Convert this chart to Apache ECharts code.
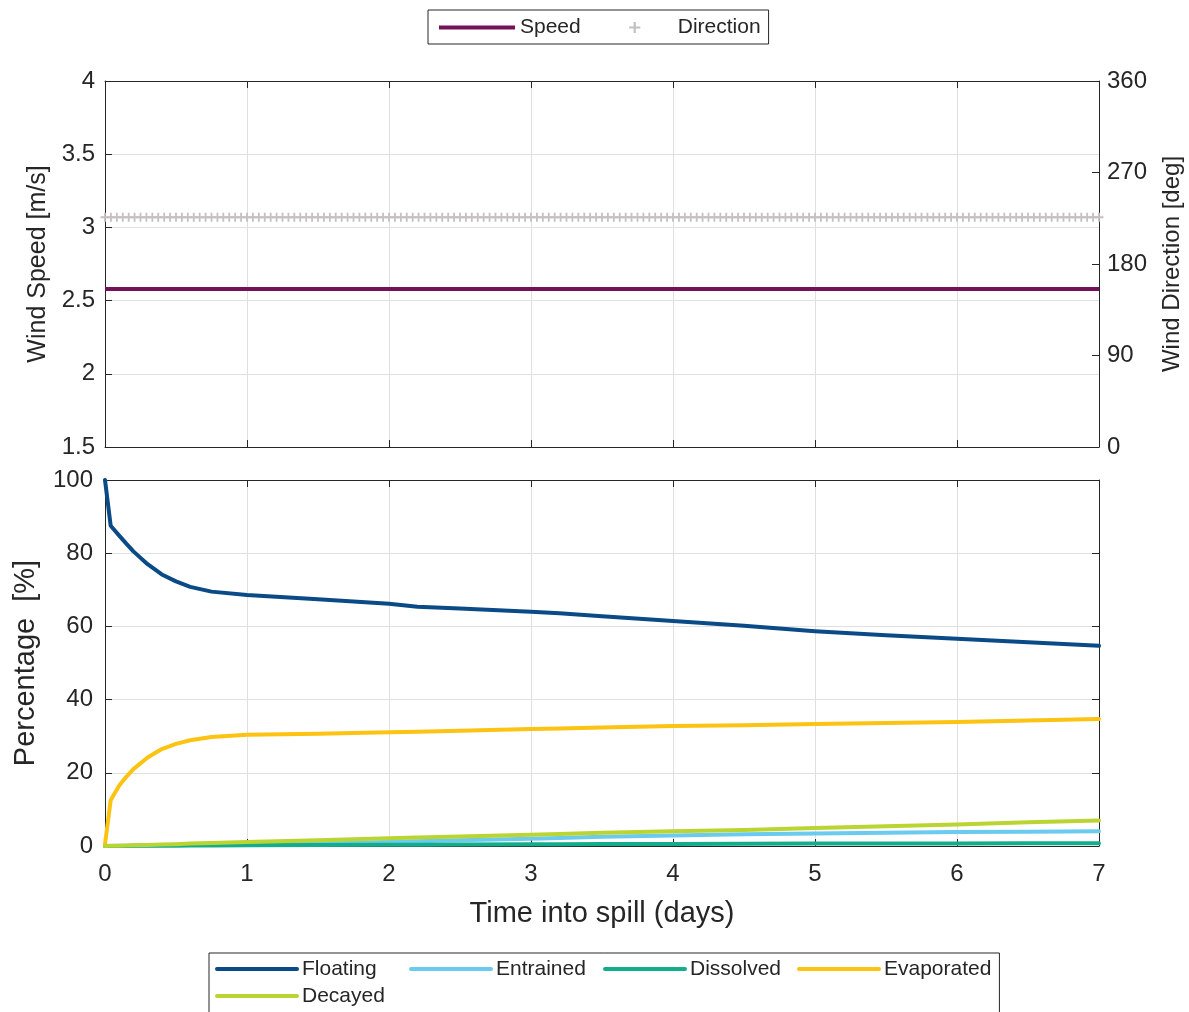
<!DOCTYPE html>
<html>
<head>
<meta charset="utf-8">
<title>Oil spill fate – wind and mass balance</title>
<script src="https://cdn.jsdelivr.net/npm/echarts@6/dist/echarts.min.js"></script>
<style>
  html, body { margin: 0; padding: 0; background: #ffffff; }
  #chart { width: 1189px; height: 1012px; }
</style>
</head>
<body>
<div id="chart"></div>
<script>
// ---- Wind forcing (constant over the run, sampled hourly) ----
const windSampleHours = 168;          // 7 days, hourly samples
const windSpeedValue = 2.58;          // m/s
const windDirectionValue = 226;       // deg

// ---- Mass balance (percent of spilled volume) ----
const timeDays = [0, 0.04, 0.1, 0.15, 0.2, 0.3, 0.4, 0.5, 0.6, 0.75, 1, 1.5, 2, 2.2, 2.5, 3, 3.2, 3.5, 4, 4.5, 5, 5.5, 6, 6.5, 7];
const floating = [100, 87.5, 84.8, 82.6, 80.5, 77.0, 74.2, 72.3, 70.8, 69.5, 68.6, 67.4, 66.2, 65.4, 64.9, 64.0, 63.6, 62.8, 61.5, 60.2, 58.7, 57.6, 56.6, 55.7, 54.7];
const entrained = [0, 0.02, 0.05, 0.07, 0.1, 0.15, 0.2, 0.25, 0.3, 0.38, 0.5, 0.8, 1.1, 1.3, 1.6, 2.0, 2.2, 2.5, 2.9, 3.2, 3.4, 3.6, 3.8, 3.9, 4.0];
const dissolved = [0, 0.01, 0.02, 0.03, 0.04, 0.06, 0.08, 0.1, 0.12, 0.15, 0.2, 0.27, 0.33, 0.36, 0.4, 0.46, 0.48, 0.52, 0.57, 0.62, 0.65, 0.68, 0.7, 0.72, 0.75];
const evaporated = [0.5, 12.5, 16.5, 18.9, 21.0, 24.2, 26.5, 27.9, 28.9, 29.8, 30.4, 30.7, 31.1, 31.2, 31.5, 32.0, 32.1, 32.4, 32.8, 33.0, 33.3, 33.6, 33.9, 34.3, 34.7];
const decayed = [0, 0.05, 0.1, 0.15, 0.2, 0.3, 0.4, 0.5, 0.65, 0.8, 1.1, 1.6, 2.1, 2.3, 2.6, 3.1, 3.3, 3.6, 4.0, 4.4, 4.9, 5.4, 5.9, 6.5, 7.0];

// ---- Axis ticks ----
const dayTicks = [0, 1, 2, 3, 4, 5, 6, 7];
const speedTicks = [1.5, 2, 2.5, 3, 3.5, 4];
const directionTicks = [0, 90, 180, 270, 360];
const percentTicks = [0, 20, 40, 60, 80, 100];

const fateNames = ['Floating', 'Entrained', 'Dissolved', 'Evaporated', 'Decayed'];
const fateValues = [floating, entrained, dissolved, evaporated, decayed];
const fateColors = ['#0a4a86', '#6acbee', '#14ad8b', '#fcc312', '#bad432'];

const FONT = '"Liberation Sans", Arial, Helvetica, sans-serif';
const INK = '#262626';
const GRID_LINE = '#e0e0e0';

const windHours = [];
for (let h = 0; h <= windSampleHours; h++) windHours.push(h / 24);
const speedData = windHours.map(t => [t, windSpeedValue]);
const directionData = windHours.map(t => [t, windDirectionValue]);

function pairs(values) { return timeDays.map((t, i) => [t, values[i]]); }

const tickIn = { show: true, inside: true, length: 7, lineStyle: { color: INK, width: 1 } };
const axisLn = { show: true, onZero: false, lineStyle: { color: INK, width: 1 } };
const splitLn = { show: true, lineStyle: { color: GRID_LINE, width: 1 } };
const tickLabel = { color: INK, fontFamily: FONT, fontSize: 24 };

function dayAxis(gridIndex, position, labelled) {
  return {
    type: 'value', gridIndex, position,
    min: dayTicks[0], max: dayTicks[dayTicks.length - 1], interval: 1,
    axisLine: axisLn, axisTick: tickIn,
    axisLabel: labelled ? Object.assign({ margin: 16 }, tickLabel) : { show: false },
    splitLine: position === 'bottom' ? splitLn : { show: false },
    name: labelled ? 'Time into spill (days)' : '',
    nameLocation: 'middle', nameGap: 53,
    nameTextStyle: { color: INK, fontFamily: FONT, fontSize: 29 }
  };
}

const PLUS = 'path://M4,0 H6 V4 H10 V6 H6 V10 H4 V6 H0 V4 H4 Z';
const hideSymbol = { opacity: 0 };

const option = {
  animation: false,
  backgroundColor: '#ffffff',
  textStyle: { fontFamily: FONT },
  grid: [
    { left: 105, right: 90, top: 81, height: 366, containLabel: false, outerBoundsMode: 'none' },
    { left: 105, right: 90, top: 480, height: 366, containLabel: false, outerBoundsMode: 'none' }
  ],
  xAxis: [
    dayAxis(0, 'bottom', false),
    dayAxis(0, 'top', false),
    dayAxis(1, 'bottom', true),
    dayAxis(1, 'top', false)
  ],
  yAxis: [
    {
      type: 'value', gridIndex: 0, position: 'left',
      min: speedTicks[0], max: speedTicks[speedTicks.length - 1], interval: 0.5,
      axisLine: axisLn, axisTick: tickIn, splitLine: splitLn,
      axisLabel: Object.assign({ margin: 10 }, tickLabel),
      name: 'Wind Speed [m/s]', nameLocation: 'middle', nameGap: 45, nameRotate: 90,
      nameTextStyle: { color: INK, fontFamily: FONT, fontSize: 25 }
    },
    {
      type: 'value', gridIndex: 0, position: 'right',
      min: directionTicks[0], max: directionTicks[directionTicks.length - 1], interval: 90,
      axisLine: axisLn, axisTick: tickIn, splitLine: { show: false },
      axisLabel: Object.assign({ margin: 8 }, tickLabel),
      name: 'Wind Direction [deg]', nameLocation: 'middle', nameGap: 61, nameRotate: 90,
      nameTextStyle: { color: INK, fontFamily: FONT, fontSize: 24 }
    },
    {
      type: 'value', gridIndex: 1, position: 'left',
      min: percentTicks[0], max: percentTicks[percentTicks.length - 1], interval: 20,
      axisLine: axisLn, axisTick: tickIn, splitLine: splitLn,
      axisLabel: Object.assign({ margin: 12 }, tickLabel),
      name: 'Percentage  [%]', nameLocation: 'middle', nameGap: 65, nameRotate: 90,
      nameTextStyle: { color: INK, fontFamily: FONT, fontSize: 29 }
    },
    {
      type: 'value', gridIndex: 1, position: 'right',
      min: percentTicks[0], max: percentTicks[percentTicks.length - 1], interval: 20,
      axisLine: axisLn, axisTick: tickIn, splitLine: { show: false },
      axisLabel: { show: false }
    }
  ],
  legend: [
    {
      data: [{ name: 'Speed', itemStyle: hideSymbol }, { name: 'Direction', lineStyle: { opacity: 0 } }],
      left: 428, top: 10,
      orient: 'horizontal',
      itemWidth: 76, itemHeight: 14, itemGap: 14,
      padding: [7, 8, 6, 9],
      borderColor: INK, borderWidth: 1, backgroundColor: '#ffffff',
      lineStyle: { width: 4 },
      textStyle: { color: INK, fontFamily: FONT, fontSize: 21 }
    },
    {
      data: fateNames.map(name => ({ name, itemStyle: hideSymbol })),
      left: 209, top: 953,
      width: 780,
      orient: 'horizontal',
      itemWidth: 80, itemHeight: 14, itemGap: 5,
      padding: [5, 8, 10, 6],
      borderColor: INK, borderWidth: 1, backgroundColor: '#ffffff',
      lineStyle: { width: 4 },
      textStyle: { color: INK, fontFamily: FONT, fontSize: 21, width: 102, overflow: 'none', lineHeight: 22 }
    }
  ],
  series: [
    {
      name: 'Speed', type: 'line', xAxisIndex: 0, yAxisIndex: 0,
      data: speedData, symbol: 'none',
      lineStyle: { color: '#741258', width: 4 }, itemStyle: { color: '#741258' },
      silent: true
    },
    {
      name: 'Direction', type: 'line', xAxisIndex: 0, yAxisIndex: 1,
      data: directionData, symbol: PLUS, symbolSize: 9, showSymbol: true,
      lineStyle: { width: 0, opacity: 0 },
      itemStyle: { color: '#c6bfbf' },
      silent: true
    }
  ].concat(fateNames.map((name, i) => ({
    name, type: 'line', xAxisIndex: 2, yAxisIndex: 2,
    data: pairs(fateValues[i]), symbol: 'none', smooth: false,
    lineStyle: { color: fateColors[i], width: 4, join: 'round', cap: 'round' },
    itemStyle: { color: fateColors[i] },
    silent: true
  })))
};

const chart = echarts.init(document.getElementById('chart'), null, { renderer: 'canvas' });
chart.setOption(option);
</script>
</body>
</html>
